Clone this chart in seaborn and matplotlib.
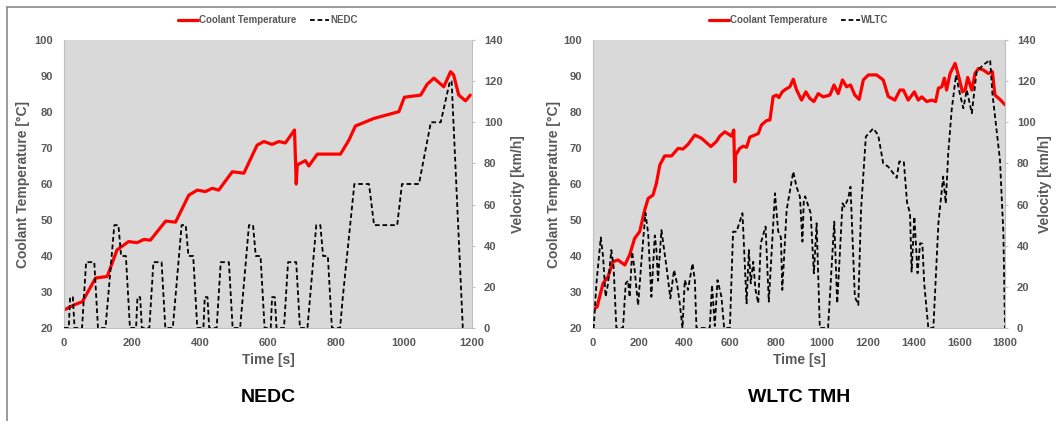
import numpy as np
import pandas as pd
import seaborn as sns
import matplotlib.pyplot as plt
from matplotlib.lines import Line2D

# NEDC velocity profile [s], [km/h]
nedc_time = [0, 14, 18, 26, 31, 53, 65, 89, 100, 122, 148, 160, 168, 182, 194,
             212, 216, 224, 229, 251, 263, 287, 298, 320, 346, 358, 366, 380, 392,
             410, 414, 422, 427, 449, 461, 485, 496, 518, 544, 556, 564, 578, 590,
             608, 612, 620, 625, 647, 659, 683, 694, 716, 742, 754, 762, 776, 788,
             812, 820, 854, 897, 912, 980, 994, 1044, 1079, 1108, 1135, 1140, 1173, 1180]
nedc_speed = [0, 0, 15, 15, 0, 0, 32, 32, 0, 0, 50, 50, 35, 35, 0,
              0, 15, 15, 0, 0, 32, 32, 0, 0, 50, 50, 35, 35, 0,
              0, 15, 15, 0, 0, 32, 32, 0, 0, 50, 50, 35, 35, 0,
              0, 15, 15, 0, 0, 32, 32, 0, 0, 50, 50, 35, 35, 0,
              0, 15, 70, 70, 50, 50, 70, 70, 100, 100, 120, 120, 0, 0]

# NEDC coolant temperature [s], [°C]
nedc_temp_time = [0, 29, 54, 93, 127, 156, 190, 215, 235, 254, 299, 328, 367, 392, 416,
                  436, 455, 495, 529, 568, 588, 612, 632, 651, 678, 683, 686, 710, 720,
                  745, 813, 838, 857, 911, 985, 1001, 1049, 1068, 1088, 1117, 1137, 1146,
                  1161, 1181, 1195]
nedc_temp = [25, 26.4, 27.3, 33.9, 34.3, 41.7, 44, 43.7, 44.6, 44.4, 49.7, 49.4, 56.9, 58.3, 57.9,
             58.8, 58.3, 63.4, 63, 70.8, 71.8, 71, 71.8, 71.4, 75, 60, 65.3, 66.5, 65,
             68.3, 68.3, 72.2, 76.1, 78.2, 80.1, 84.1, 84.7, 87.7, 89.4, 87, 91.2, 90.3,
             84.7, 83.1, 84.7]

# WLTC velocity profile
wltc_time = [0, 3, 15, 34, 44, 55, 66, 80, 90, 102, 131, 143, 153, 160, 171, 182, 197, 212,
             229, 241, 255, 270, 277, 284, 299, 321, 338, 354, 367, 379, 391, 401, 415, 435,
             445, 452, 510, 520, 532, 544, 561, 573, 598, 612, 627, 653, 671, 681, 689, 700,
             710, 722, 733, 754, 768, 795, 809, 821, 827, 846, 875, 889, 904, 915, 921, 927,
             951, 965, 977, 991, 1027, 1054, 1067, 1090, 1099, 1115, 1125, 1144, 1159, 1171,
             1192, 1224, 1246, 1268, 1290, 1312, 1327, 1338, 1358, 1372, 1385, 1392, 1404,
             1418, 1429, 1439, 1447, 1465, 1487, 1509, 1530, 1541, 1552, 1567, 1586, 1599,
             1618, 1633, 1655, 1676, 1705, 1735, 1745, 1778, 1793, 1800]
wltc_speed = [0, 0, 21.7, 44, 34.7, 15.2, 21.7, 37.9, 29.8, 0, 0, 21.7, 23, 15, 37, 28.2, 11, 33,
              56, 46, 15.2, 45, 38, 23, 47.6, 29.8, 14.4, 28.2, 21.7, 12, 0, 23.3, 18.5, 31.4,
              23, 0, 0, 20.9, 1, 23.3, 15.2, 0, 0, 46.8, 46.8, 55.8, 12, 37.9, 21.7, 32.2,
              18.5, 12, 41.2, 49.3, 12.8, 65.5, 47, 44, 18.5, 57.4, 76, 68.7, 63.8, 42, 62.2, 64,
              55.8, 26.6, 50.9, 0, 0, 51.7, 12, 60.6, 59, 63, 68.7, 15.2, 11.2, 57.4,
              93, 97, 93.8, 80, 78.4, 75.2, 73, 80.9, 80.9, 61, 55.8, 27.4, 54.1,
              26.6, 41.2, 41, 21.7, 0, 0, 50.9, 73.6, 60.6, 85, 106, 123, 115.7,
              106.8, 115.7, 104.4, 124.6, 127.9, 130.3, 114, 81.7, 46, 0]

# WLTC coolant temperature
wltc_temp_time = [0, 18, 44, 66, 87, 109, 139, 160, 182, 204, 226, 241, 262, 277, 292, 313, 343,
                  372, 393, 415, 445, 474, 515, 539, 554, 576, 605, 615, 620, 623, 641, 656, 671,
                  685, 707, 722, 736, 758, 773, 787, 802, 812, 827, 839, 860, 875, 889, 911, 930,
                  947, 965, 984, 1006, 1035, 1053, 1071, 1090, 1108, 1125, 1144, 1163, 1181, 1203,
                  1239, 1268, 1290, 1319, 1341, 1356, 1377, 1404, 1421, 1436, 1458, 1480, 1497,
                  1509, 1524, 1535, 1545, 1560, 1582, 1596, 1614, 1626, 1637, 1655, 1669, 1684,
                  1705, 1727, 1745, 1756, 1778, 1800]
wltc_temp = [25, 25.9, 32.4, 34.3, 38.4, 38.9, 37.5, 40.3, 44.9, 46.8, 52.8, 56, 56.9, 60.2, 65.3, 67.8, 67.8,
             69.9, 69.7, 71, 73.6, 72.7, 70.4, 71.8, 73.3, 74.5, 73.3, 75, 60.6, 68, 69.9, 70.5, 70.2,
             73, 73.6, 74, 76.4, 77.6, 77.8, 84.3, 84.7, 84, 85.6, 86.2, 87, 89.1, 86.2, 83.3, 85.6,
             83.8, 82.9, 85.1, 84.2, 84.7, 87.5, 85.1, 88.9, 87, 87.5, 84.7, 83.5, 88.9, 90.3,
             90.3, 88.9, 84.3, 83.3, 86.1, 86.1, 83.3, 85.6, 83.3, 84.2, 82.9, 83.3, 82.9,
             86.6, 87, 89.4, 86.1, 90.7, 93.5, 90.3, 85.6, 86.1, 89.6, 86.1, 90.7, 92.1,
             91.7, 90.7, 91.2, 84.7, 83.5, 82]

sns.set_theme(style="white")
plt.rcParams['font.family'] = ['Liberation Sans', 'DejaVu Sans']
plt.rcParams['font.weight'] = 'bold'
plt.rcParams['axes.labelweight'] = 'bold'

GRAY = '#595959'
SPINE = '#bfbfbf'
DASH = (0, (2.6, 1.6))

fig = plt.figure(figsize=(10.56, 4.21), dpi=100)

# pixel layout of the two panels: plot area edges, y-label edges
panels = [
    dict(left=64, right=472, ylab=30, y2lab=511, time=nedc_time, speed=nedc_speed,
         ttime=nedc_temp_time, temp=nedc_temp, xmax=1200, name='NEDC', title='NEDC'),
    dict(left=593, right=1005, ylab=561, y2lab=1038, time=wltc_time, speed=wltc_speed,
         ttime=wltc_temp_time, temp=wltc_temp, xmax=1800, name='WLTC', title='WLTC TMH'),
]

W, H = 1056, 421
for p in panels:
    w = p['right'] - p['left']
    ax = fig.add_axes([p['left'] / W, (H - 328) / H, w / W, 288 / H])
    ax.set_facecolor('#d9d9d9')
    ax2 = ax.twinx()

    sns.lineplot(x=p['ttime'], y=p['temp'], ax=ax, color='#ff0000', lw=2.3)
    sns.lineplot(x=p['time'], y=p['speed'], ax=ax2, color='black', lw=1.3, linestyle=DASH)

    ax.set_xlim(0, p['xmax'])
    ax.set_xticks(np.arange(0, p['xmax'] + 1, 200))
    ax.set_ylim(20, 100)
    ax.set_yticks(np.arange(20, 101, 10))
    ax2.set_ylim(0, 140)
    ax2.set_yticks(np.arange(0, 141, 20))

    for a in (ax, ax2):
        for s in a.spines.values():
            s.set_visible(False)
    ax.spines['left'].set_visible(True)
    ax.spines['bottom'].set_visible(True)
    ax2.spines['right'].set_visible(True)
    for s in (ax.spines['left'], ax.spines['bottom'], ax2.spines['right']):
        s.set_color(SPINE)
        s.set_linewidth(0.8)

    ax.tick_params(axis='both', length=0, labelsize=8, labelcolor=GRAY)
    ax.tick_params(axis='y', pad=8)
    ax.tick_params(axis='x', pad=7)
    ax2.tick_params(axis='y', length=2.5, color=SPINE, width=0.8, labelsize=8,
                    labelcolor=GRAY, pad=6)

    ax.set_xlabel('Time [s]', fontsize=10, color=GRAY, labelpad=4)
    ax.set_ylabel('Coolant Temperature [°C]', fontsize=10, color=GRAY)
    ax2.set_ylabel('Velocity [km/h]', fontsize=10, color=GRAY)
    ax.yaxis.set_label_coords((p['ylab'] - p['left']) / w, 0.5)
    ax2.yaxis.set_label_coords((p['y2lab'] - p['left']) / w, 0.5)

    handles = [Line2D([], [], color='#ff0000', lw=2.3),
               Line2D([], [], color='black', lw=1.3, linestyle=DASH)]
    leg = ax2.legend(handles, ['Coolant Temperature', p['name']], loc='center',
                     bbox_to_anchor=(0.5, 1.069), ncol=2, frameon=False, fontsize=7,
                     handlelength=2.0, handletextpad=0.1, columnspacing=1.4)
    for t in leg.get_texts():
        t.set_color(GRAY)

    fig.text((p['left'] + p['right']) / 2 / W, 1 - 397 / H, p['title'], ha='center',
             va='center', fontsize=14, fontweight='bold', color='black')

# outer frame lines
fig.add_artist(Line2D([7 / W, 1], [1 - 7 / H, 1 - 7 / H], transform=fig.transFigure,
                      color='#808080', lw=1.1))
fig.add_artist(Line2D([7 / W, 7 / W], [0, 1 - 7 / H], transform=fig.transFigure,
                      color='#808080', lw=1.1))

fig.savefig('out.png', dpi=100)
